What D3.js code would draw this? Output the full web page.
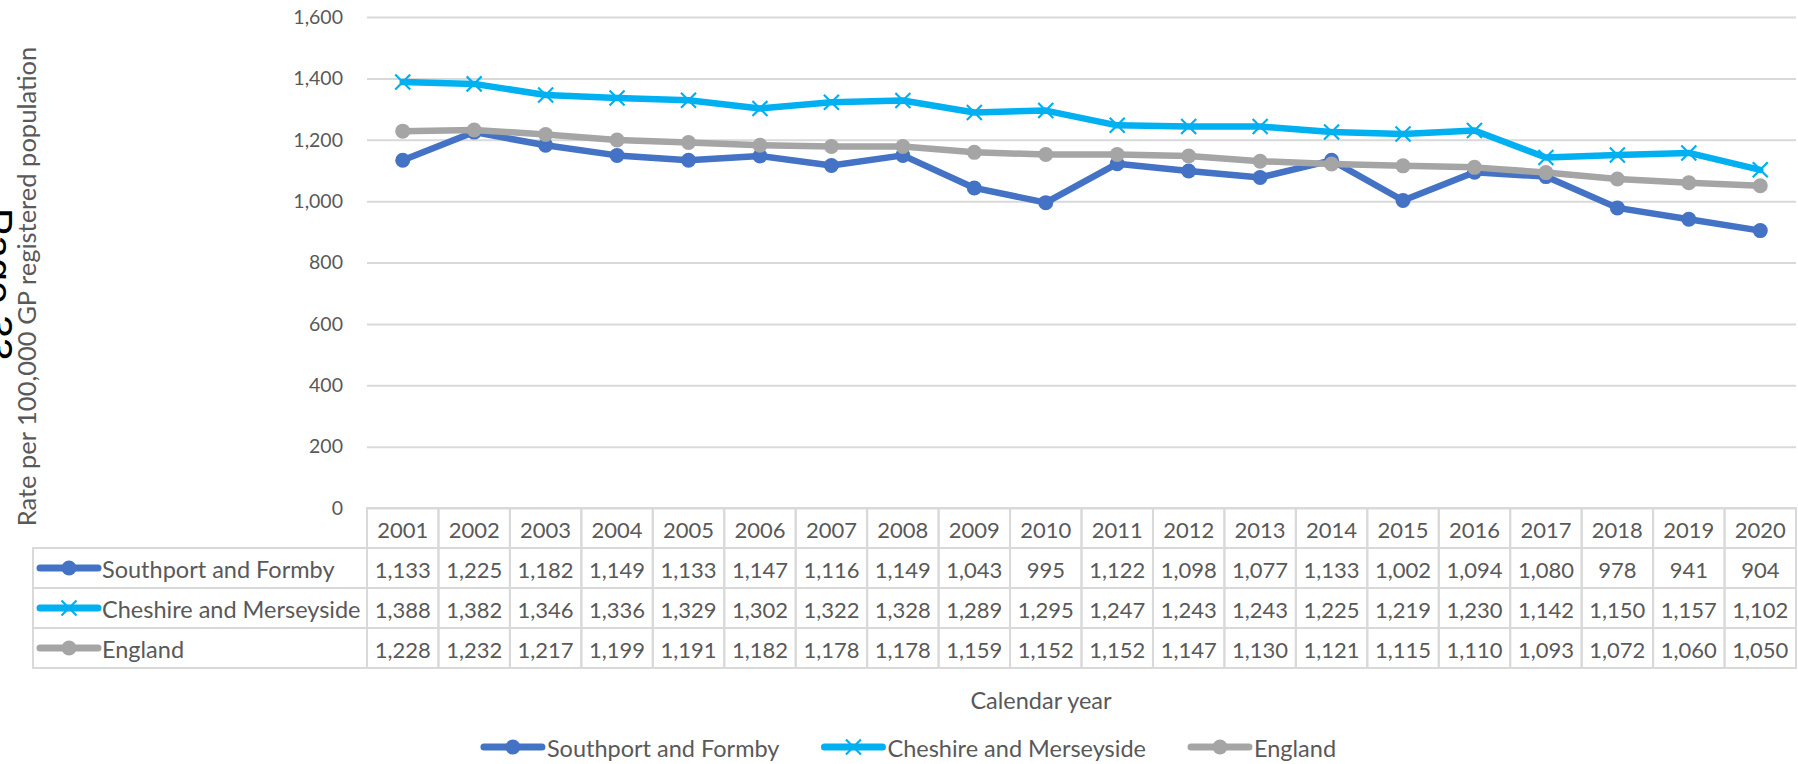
<!DOCTYPE html>
<html>
<head>
<meta charset="utf-8">
<script src="https://cdn.jsdelivr.net/npm/d3@7"></script>
<style>
  html, body { margin: 0; padding: 0; background: #ffffff; }
  svg { display: block; }
</style>
</head>
<body>
<svg id="chart" width="1798" height="764"></svg>
<script>
// Emergency admission rates per 100,000 GP registered population
const years = ["2001","2002","2003","2004","2005","2006","2007","2008","2009","2010",
               "2011","2012","2013","2014","2015","2016","2017","2018","2019","2020"];
const southport = [1133,1225,1182,1149,1133,1147,1116,1149,1043,995,1122,1098,1077,1133,1002,1094,1080,978,941,904];
const cheshire  = [1388,1382,1346,1336,1329,1302,1322,1328,1289,1295,1247,1243,1243,1225,1219,1230,1142,1150,1157,1102];
const england   = [1228,1232,1217,1199,1191,1182,1178,1178,1159,1152,1152,1147,1130,1121,1115,1110,1093,1072,1060,1050];
const seriesNames  = ["Southport and Formby","Cheshire and Merseyside","England"];
const seriesColors = ["#4472C4","#00B0F0","#A5A5A5"];
const seriesMarkers = ["circle","x","circle"];
const yTicks = [0,200,400,600,800,1000,1200,1400,1600];

const series = seriesNames.map((name, i) => ({
  name, color: seriesColors[i], marker: seriesMarkers[i],
  values: [southport, cheshire, england][i]
}));

const svg = d3.select("#chart");
const plot = { left: 367, right: 1796, top: 17, bottom: 508 };
const tableLeft = 33;
const rowH = 40;
const textColor = "#595959";
const gridColor = "#D9D9D9";
const font = "Lato, 'Open Sans', sans-serif";
const fmt = d3.format(",");

const x = d3.scaleBand().domain(years).range([plot.left, plot.right]).padding(0);
const y = d3.scaleLinear().domain([0, 1600]).range([plot.bottom, plot.top]);

// Gridlines and value axis labels
const yAxis = d3.axisLeft(y).tickValues(yTicks).tickFormat(fmt)
  .tickSize(-(plot.right - plot.left)).tickPadding(24);
const gy = svg.append("g").attr("transform", `translate(${plot.left},0)`).call(yAxis);
gy.select(".domain").remove();
gy.selectAll(".tick line").attr("stroke", gridColor).attr("stroke-width", 2);
gy.selectAll(".tick text").attr("fill", textColor).attr("font-family", font)
  .attr("font-size", 19.5);

// Value axis title
svg.append("text")
  .attr("transform", `translate(26,${(46 + 527) / 2}) rotate(-90)`)
  .attr("text-anchor", "middle").attr("dominant-baseline", "central")
  .attr("fill", textColor).attr("font-family", font).attr("font-size", 25.5)
  .text("Rate per 100,000 GP registered population");

// Data table below the plot
const table = svg.append("g");
const rowsTop = plot.bottom + rowH;
// header cells (years)
table.selectAll("rect.hdr").data(years).join("rect")
  .attr("x", d => x(d)).attr("y", plot.bottom)
  .attr("width", x.bandwidth()).attr("height", rowH)
  .attr("fill", "none").attr("stroke", gridColor).attr("stroke-width", 2);
table.selectAll("text.hdr").data(years).join("text")
  .attr("x", d => x(d) + x.bandwidth() / 2).attr("y", plot.bottom + rowH / 2 + 1)
  .attr("text-anchor", "middle").attr("dominant-baseline", "central")
  .attr("fill", textColor).attr("font-family", font).attr("font-size", 22)
  .text(d => d);

series.forEach((s, si) => {
  const ry = rowsTop + si * rowH;
  const g = table.append("g");
  g.append("rect").attr("x", tableLeft).attr("y", ry)
    .attr("width", plot.left - tableLeft).attr("height", rowH)
    .attr("fill", "none").attr("stroke", gridColor).attr("stroke-width", 2);
  g.selectAll("rect.cell").data(years).join("rect")
    .attr("x", d => x(d)).attr("y", ry)
    .attr("width", x.bandwidth()).attr("height", rowH)
    .attr("fill", "none").attr("stroke", gridColor).attr("stroke-width", 2);
  g.selectAll("text.cell").data(s.values).join("text")
    .attr("x", (d, i) => x(years[i]) + x.bandwidth() / 2).attr("y", ry + rowH / 2 + 1)
    .attr("text-anchor", "middle").attr("dominant-baseline", "central")
    .attr("fill", textColor).attr("font-family", font).attr("font-size", 22)
    .text(d => fmt(d));
  drawKey(g, 40, ry + rowH / 2, s);
  g.append("text").attr("x", 102).attr("y", ry + rowH / 2 + 1)
    .attr("dominant-baseline", "central")
    .attr("fill", textColor).attr("font-family", font).attr("font-size", 23.5)
    .text(s.name);
});

// Legend key: short line with the series marker in the middle
function drawKey(g, x0, cy, s) {
  g.append("line").attr("x1", x0).attr("x2", x0 + 58).attr("y1", cy).attr("y2", cy)
    .attr("stroke", s.color).attr("stroke-width", 7).attr("stroke-linecap", "round");
  drawMarker(g, x0 + 29, cy, s);
}

function drawMarker(g, cx, cy, s) {
  if (s.marker === "circle") {
    g.append("circle").attr("cx", cx).attr("cy", cy).attr("r", 7.5).attr("fill", s.color);
  } else {
    const r = 7.5;
    g.append("path")
      .attr("d", `M${cx - r},${cy - r}L${cx + r},${cy + r}M${cx - r},${cy + r}L${cx + r},${cy - r}`)
      .attr("stroke", s.color).attr("stroke-width", 2.2).attr("fill", "none");
  }
}

// Series lines
const line = d3.line().x((d, i) => x(years[i]) + x.bandwidth() / 2).y(d => y(d));
series.forEach(s => {
  const g = svg.append("g");
  g.append("path").datum(s.values).attr("d", line)
    .attr("fill", "none").attr("stroke", s.color).attr("stroke-width", 6.5)
    .attr("stroke-linejoin", "round").attr("stroke-linecap", "round");
  s.values.forEach((v, i) => drawMarker(g, x(years[i]) + x.bandwidth() / 2, y(v), s));
});

// Category axis title
svg.append("text").attr("x", 1041).attr("y", 700)
  .attr("text-anchor", "middle").attr("dominant-baseline", "central")
  .attr("fill", textColor).attr("font-family", font).attr("font-size", 23.5)
  .text("Calendar year");

// Legend at the bottom
const legend = svg.append("g");
const legendY = 747;
const items = [];
series.forEach(s => {
  const ig = legend.append("g");
  drawKey(ig, 0, legendY, s);
  const t = ig.append("text").attr("x", 63).attr("y", legendY + 1)
    .attr("dominant-baseline", "central")
    .attr("fill", textColor).attr("font-family", font).attr("font-size", 23.5)
    .text(s.name);
  items.push({ ig, w: 63 + t.node().getComputedTextLength() });
});
const gap = 45;
const totalW = d3.sum(items, d => d.w) + gap * (items.length - 1);
let lx = 910 - totalW / 2;
items.forEach(it => {
  it.ig.attr("transform", `translate(${lx},0)`);
  lx += it.w + gap;
});

// Page number stamped over the left margin
svg.append("text")
  .attr("transform", "translate(-16,208) rotate(90)")
  .attr("fill", "#000000").attr("font-family", "'Liberation Sans', Arial, sans-serif")
  .attr("font-size", 41)
  .text("Page 33");
</script>
</body>
</html>
